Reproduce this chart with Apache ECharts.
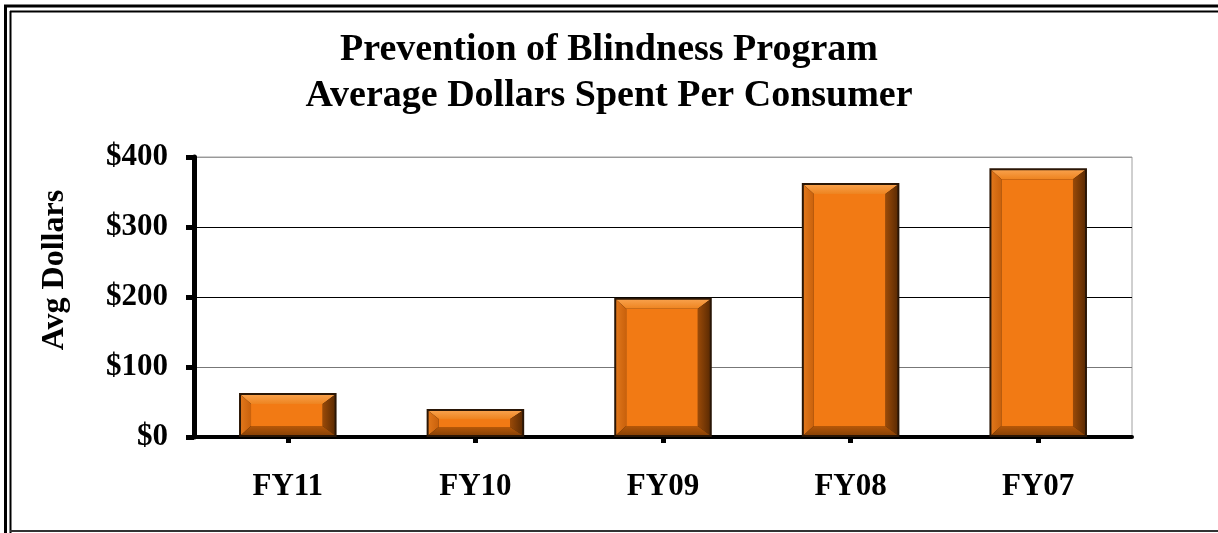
<!DOCTYPE html>
<html>
<head>
<meta charset="utf-8">
<script src="https://cdn.jsdelivr.net/npm/echarts@6/dist/echarts.min.js"></script>
<style>
html,body{margin:0;padding:0;background:#fff;}
#c{width:1218px;height:533px;}
</style>
</head>
<body>
<div id="c"></div>
<script>
const titleLines = ['Prevention of Blindness Program', 'Average Dollars Spent Per Consumer'];
const categories = ['FY11', 'FY10', 'FY09', 'FY08', 'FY07'];
const avgDollars = [63, 40, 199, 363, 384];
const yTicks = [0, 100, 200, 300, 400];
const yAxisTitle = 'Avg Dollars';

const FONT = '"Liberation Serif", "Times New Roman", serif';
const chart = echarts.init(document.getElementById('c'), null, {renderer: 'canvas'});

const barData = avgDollars.map((v, i) => [i, v]);

function renderBevelBar(params, api) {
  const idx = api.value(0);
  const top = api.coord([idx, api.value(1)]);
  const base = api.coord([idx, 0]);
  const w = api.size([1, 0])[0] * 0.52;
  const x0 = top[0] - w / 2, x1 = top[0] + w / 2;
  const y0 = top[1], y1 = base[1];
  const bd = 2;
  const ix0 = x0 + bd, ix1 = x1 - bd, iy0 = y0 + bd, iy1 = y1 - bd;
  const h = iy1 - iy0;
  const bl = 10, br = 12;
  const bt = Math.min(9, h / 3), bb = Math.min(9, h / 3);
  const fx0 = ix0 + bl, fx1 = ix1 - br, fy0 = iy0 + bt, fy1 = iy1 - bb;
  return {
    type: 'group',
    children: [
      {type: 'rect', shape: {x: x0, y: y0, width: w, height: y1 - y0}, style: {fill: '#2a1606'}},
      {type: 'polygon', shape: {points: [[ix0, iy0], [ix1, iy0], [fx1, fy0], [fx0, fy0]]},
        style: {fill: new echarts.graphic.LinearGradient(0, 0, 0, 1, [{offset: 0, color: '#f8a04a'}, {offset: 1, color: '#ee8420'}])}},
      {type: 'polygon', shape: {points: [[ix0, iy0], [fx0, fy0], [fx0, fy1], [ix0, iy1]]},
        style: {fill: new echarts.graphic.LinearGradient(0, 0, 1, 0, [{offset: 0, color: '#e0761a'}, {offset: 1, color: '#c9610c'}])}},
      {type: 'polygon', shape: {points: [[ix1, iy0], [ix1, iy1], [fx1, fy1], [fx1, fy0]]},
        style: {fill: new echarts.graphic.LinearGradient(0, 0, 1, 0, [{offset: 0, color: '#9a4a08'}, {offset: 1, color: '#5e2c03'}])}},
      {type: 'polygon', shape: {points: [[ix0, iy1], [fx0, fy1], [fx1, fy1], [ix1, iy1]]},
        style: {fill: new echarts.graphic.LinearGradient(0, 0, 0, 1, [{offset: 0, color: '#b65808'}, {offset: 1, color: '#8a4206'}])}},
      {type: 'rect', shape: {x: fx0, y: fy0, width: Math.max(0, fx1 - fx0), height: Math.max(0, fy1 - fy0)},
        style: {fill: '#f27a14'}}
    ]
  };
}

chart.setOption({
  animation: false,
  backgroundColor: '#ffffff',
  title: {
    text: titleLines.join('\n'),
    left: 'center',
    top: 22,
    textStyle: {fontFamily: FONT, fontWeight: 'bold', fontSize: 38, color: '#000', lineHeight: 46}
  },
  grid: {left: 194, right: 86, top: 157, bottom: 96, show: true, borderColor: '#a0a0a0', borderWidth: 1, backgroundColor: 'transparent'},
  xAxis: {
    type: 'category',
    data: categories,
    axisLine: {lineStyle: {color: '#000', width: 4}},
    axisTick: {show: true, alignWithLabel: true, length: 6, lineStyle: {color: '#000', width: 5}},
    axisLabel: {fontFamily: FONT, fontWeight: 'bold', fontSize: 31, color: '#000', margin: 34}
  },
  yAxis: {
    type: 'value',
    min: yTicks[0],
    max: yTicks[yTicks.length - 1],
    interval: 100,
    name: yAxisTitle,
    nameLocation: 'middle',
    nameGap: 123,
    nameTextStyle: {fontFamily: FONT, fontWeight: 'bold', fontSize: 32, color: '#000', padding: [0, 0, 0, 54]},
    axisLine: {show: true, lineStyle: {color: '#000', width: 5}},
    axisTick: {show: true, length: 8, lineStyle: {color: '#000', width: 5}},
    splitLine: {show: true, lineStyle: {color: ['#000', '#777', '#000', '#000', '#999'], width: 1}},
    axisLabel: {fontFamily: FONT, fontWeight: 'bold', fontSize: 31, color: '#000', margin: 26, formatter: v => '$' + v}
  },
  series: [{
    type: 'custom',
    renderItem: renderBevelBar,
    encode: {x: 0, y: 1},
    data: barData,
    z: 3
  }],
  graphic: [
    {type: 'line', shape: {x1: 5.5, y1: 5, x2: 5.5, y2: 533}, style: {stroke: '#000', lineWidth: 3}},
    {type: 'line', shape: {x1: 10.5, y1: 11, x2: 10.5, y2: 533}, style: {stroke: '#000', lineWidth: 2}},
    {type: 'line', shape: {x1: 4, y1: 6, x2: 1218, y2: 6}, style: {stroke: '#000', lineWidth: 3}},
    {type: 'line', shape: {x1: 10, y1: 11.5, x2: 1218, y2: 11.5}, style: {stroke: '#000', lineWidth: 2}},
    {type: 'line', shape: {x1: 10, y1: 531, x2: 1218, y2: 531}, style: {stroke: '#333', lineWidth: 2}}
  ]
});
</script>
</body>
</html>
